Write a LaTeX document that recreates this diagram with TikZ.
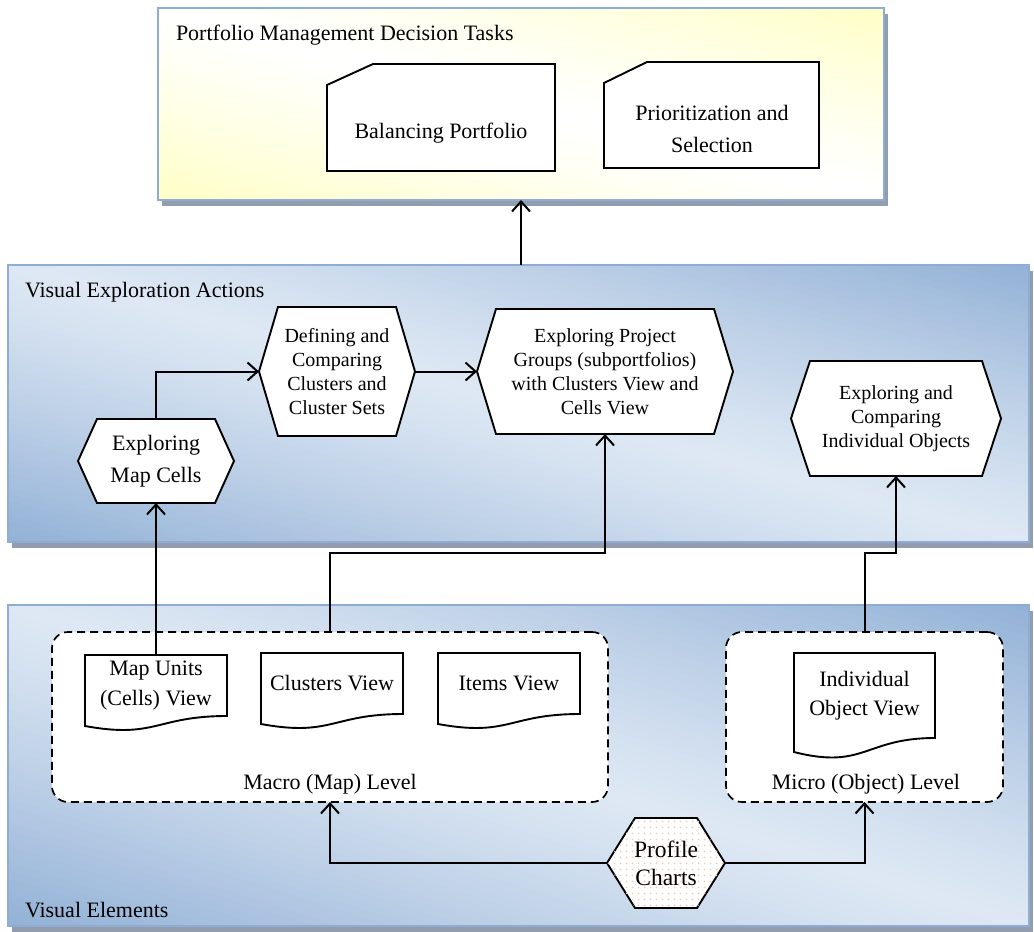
\documentclass[tikz,border=0pt]{standalone}
\usepackage{fontspec}
\setmainfont{Liberation Serif}
\usetikzlibrary{arrows.meta,patterns,calc}
\definecolor{bdark}{RGB}{146,177,214}
\definecolor{blight}{RGB}{222,232,244}
\definecolor{ylw}{RGB}{255,255,198}
\definecolor{pborder}{RGB}{143,172,211}
\definecolor{shadowc}{RGB}{146,158,176}
\definecolor{dotc}{RGB}{248,200,175}
\pgfdeclarepatternformonly{pdots}{\pgfpointorigin}{\pgfpoint{6pt}{6pt}}{\pgfpoint{6pt}{6pt}}{\pgfpathcircle{\pgfpoint{3pt}{3pt}}{1.1pt}\pgfusepath{fill}}
\pgfdeclarelayer{back}
\pgfdeclarelayer{mid}
\pgfsetlayers{back,mid,main}
% diagonal gradient: light along the top-left/bottom-right diagonal, dark toward the other two corners
\newcommand\gradpanel[6]{%
  \begin{scope}
    \clip ({#1-(#3)/2},{#2-(#4)/2}) rectangle ({#1+(#3)/2},{#2+(#4)/2});
    \pgfmathsetmacro\gD{100*sqrt(((#3)/100)^2+((#4)/100)^2)}
    \pgfmathsetmacro\gT{(#3)/\gD*(#4)}
    \pgfmathsetmacro\gux{(#4)/\gD}
    \pgfmathsetmacro\guy{-(#3)/\gD}
    \pgfmathsetmacro\gvx{(#3)/\gD}
    \pgfmathsetmacro\gvy{(#4)/\gD}
    \foreach \i in {-40,...,39}{
      \pgfmathsetmacro\ta{\i/40*\gT}
      \pgfmathsetmacro\tb{(\i+1.3)/40*\gT}
      \pgfmathsetmacro\gf{100*((abs(\i+0.5)/40)^1.2)}
      \pgfmathsetmacro\pax{#1+\ta*\gux-800*\gvx}
      \pgfmathsetmacro\pay{#2+\ta*\guy-800*\gvy}
      \pgfmathsetmacro\pbx{#1+\ta*\gux+800*\gvx}
      \pgfmathsetmacro\pby{#2+\ta*\guy+800*\gvy}
      \pgfmathsetmacro\pcx{#1+\tb*\gux+800*\gvx}
      \pgfmathsetmacro\pcy{#2+\tb*\guy+800*\gvy}
      \pgfmathsetmacro\pdx{#1+\tb*\gux-800*\gvx}
      \pgfmathsetmacro\pdy{#2+\tb*\guy-800*\gvy}
      \fill[#5!\gf!#6] (\pax,\pay) -- (\pbx,\pby) -- (\pcx,\pcy) -- (\pdx,\pdy) -- cycle;
    }
  \end{scope}}
\newcommand\panelbox[7]{%
  \fill[shadowc] ({#2-(#4)/2+4},{#3-(#5)/2+6}) rectangle ({#2+(#4)/2+4},{#3+(#5)/2+6});
  \gradpanel{#2}{#3}{#4}{#5}{#6}{#7}
  \node[draw=pborder,line width=1.8pt,minimum width=#4pt,minimum height=#5pt] (#1) at (#2,#3) {};}
\newcommand\hexoutline[2]{\draw[outline] (#1.west) -- ([xshift=#2]#1.north west) -- ([xshift=-#2]#1.north east) -- (#1.east) -- ([xshift=-#2]#1.south east) -- ([xshift=#2]#1.south west) -- cycle;}
\newcommand\docoutline[3]{\draw[outline] (#1.north west) -- (#1.north east) -- (#1.south east) .. controls (#1.south) and ([yshift=#3]#1.south) .. ([yshift=#2]#1.south west) -- cycle;}
\begin{document}
\begin{tikzpicture}[x=1pt,y=-1pt,
  every node/.style={inner sep=0pt,outer sep=0pt,align=center,font=\fontsize{22}{30}\selectfont},
  outline/.style={draw=black,fill=white,line width=1.9pt,line join=miter},
  level/.style={draw=black,fill=white,line width=1.7pt,dash pattern=on 8pt off 5pt,rounded corners=16pt},
  conn/.style={line width=2pt,-{Straight Barb[length=10pt,width=18pt]}},
  small/.style={font=\fontsize{20}{24}\selectfont},
]
\useasboundingbox (0,0) rectangle (1034,932);
\begin{pgfonlayer}{back}
\panelbox{decision}{521}{104}{726}{192}{ylw}{white}
\panelbox{actions}{518.5}{403.5}{1021}{277}{bdark}{blight}
\panelbox{elements}{518.5}{765.5}{1021}{321}{bdark}{blight}
\end{pgfonlayer}
% titles
\node[anchor=west] (ttitle) at (176,35) {Portfolio Management Decision Tasks};
\node[anchor=west] (atitle) at (25,292) {Visual Exploration Actions};
\node[anchor=west] (etitle) at (25,910) {Visual Elements};
% cards
\node (balancing) at (441,133) {Balancing Portfolio};
\node[font=\fontsize{22}{32}\selectfont] (prior) at (712,129) {Prioritization and\\Selection};
% hexagons
\node[minimum width=156pt,minimum height=84pt,font=\fontsize{22}{32}\selectfont] (mapcells) at (156,461) {Exploring\\Map Cells};
\node[small,minimum width=156pt,minimum height=129pt] (defining) at (337,371.5) {Defining and\\Comparing\\Clusters and\\Cluster Sets};
\node[small,minimum width=256pt,minimum height=125pt] (groups) at (605,371.5) {Exploring Project\\Groups (subportfolios)\\with Clusters View and\\Cells View};
\node[small,minimum width=210pt,minimum height=115pt] (indiv) at (896,418.5) {Exploring and\\Comparing\\Individual Objects};
\node[font=\fontsize{23.5}{28}\selectfont,minimum width=118pt,minimum height=90pt] (profile) at (666,863) {Profile\\Charts};
% documents
\node[minimum width=142pt,minimum height=61pt] (mapunits) at (156,685.5) {Map Units\\(Cells) View};
\node[minimum width=142pt,minimum height=61pt] (clusters) at (332,683.5) {Clusters View};
\node[minimum width=142pt,minimum height=61pt] (items) at (509,683.5) {Items View};
\node[minimum width=141pt,minimum height=85pt,font=\fontsize{22}{29}\selectfont] (objview) at (864.5,695.5) {Individual\\Object View};
% level labels
\node (macrolbl) at (330,784) {Macro (Map) Level};
\node (microlbl) at (866,784) {Micro (Object) Level};
\begin{pgfonlayer}{mid}
\node[level,minimum width=556pt,minimum height=170pt] (macro) at (330,717) {};
\node[level,minimum width=277pt,minimum height=170pt] (micro) at (864.5,717) {};
\draw[outline] (327,85) -- (373,64) -- (555,64) -- (555,171) -- (327,171) -- cycle;
\draw[outline] (604,83) -- (647,62) -- (819,62) -- (819,168) -- (604,168) -- cycle;
\hexoutline{mapcells}{19pt}
\hexoutline{defining}{19pt}
\hexoutline{groups}{19pt}
\hexoutline{indiv}{19pt}
\draw[outline,postaction={pattern=pdots,pattern color=dotc}] (profile.west) -- ([xshift=28pt]profile.north west) -- ([xshift=-28pt]profile.north east) -- (profile.east) -- ([xshift=-28pt]profile.south east) -- ([xshift=28pt]profile.south west) -- cycle;
\docoutline{mapunits}{-10pt}{-23pt}
\docoutline{clusters}{-10pt}{-23pt}
\docoutline{items}{-10pt}{-23pt}
\docoutline{objview}{-14pt}{-32pt}
\end{pgfonlayer}
% connectors
\draw[conn] (decision.south |- actions.north) -- (decision.south);
\draw[conn] (mapcells.north) |- (defining.west);
\draw[conn] (defining.east) -- (groups.west);
\draw[conn] (mapunits.north) -- (mapcells.south);
\draw[conn] (macro.north) -- ++(0,-79) -| (groups.south);
\draw[conn] (micro.north) -- ++(0,-79) -| (indiv.south);
\draw[conn] (profile.west) -| (macro.south);
\draw[conn] (profile.east) -| (micro.south);
\end{tikzpicture}
\end{document}
